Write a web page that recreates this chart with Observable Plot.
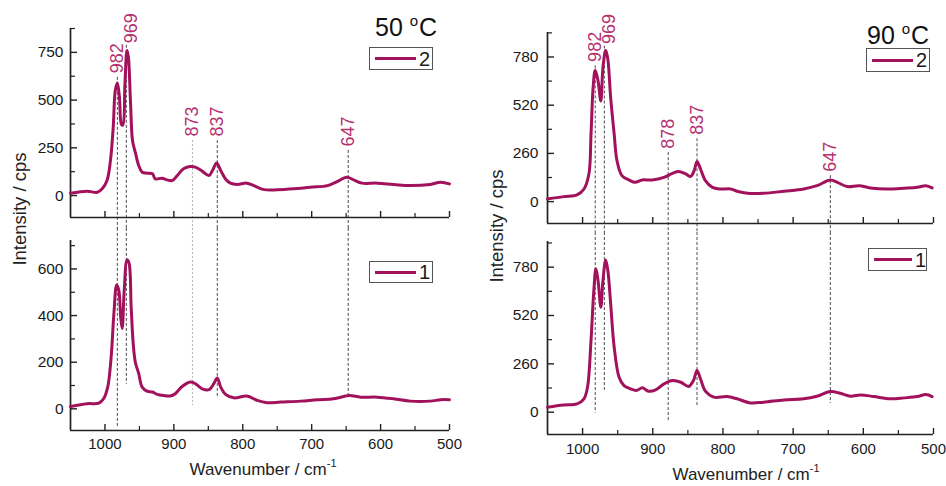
<!DOCTYPE html>
<html><head><meta charset="utf-8">
<script src="https://cdn.jsdelivr.net/npm/d3@7"></script>
<script src="https://cdn.jsdelivr.net/npm/@observablehq/plot@0.6"></script>
<style>
body{margin:0;background:#fff;font-family:"Liberation Sans",Arial,sans-serif;color:#1a1a1a;}
#root{position:relative;width:946px;height:486px;overflow:hidden;background:#fff;}
.panel{position:absolute;}
.panel svg{overflow:visible;display:block;}
.title{position:absolute;font-size:25px;line-height:1;white-space:nowrap;color:#111;}
.title sup{font-size:15px;vertical-align:0;position:relative;top:-10px;margin-right:1px;}
.legend{position:absolute;box-sizing:border-box;border:1px solid #555;background:#fff;display:flex;align-items:center;padding-left:5px;font-size:20px;line-height:1;}
.legend .sw{display:inline-block;width:41px;height:3px;background:#a2115b;margin-right:3px;}
.ylab{position:absolute;font-size:18.5px;white-space:nowrap;transform:translate(-50%,-50%) rotate(-90deg);color:#222;}
.xlab{position:absolute;font-size:17px;white-space:nowrap;transform:translateX(-50%);color:#222;line-height:1;}
.xlab sup{font-size:11px;position:relative;top:-1px;}
</style></head><body><div id="root"></div>
<script>
// ---- data ----
const xMajor = [1000, 900, 800, 700, 600, 500];
const xMinor = [950, 850, 750, 650, 550];
const yMajor50top = [0, 250, 500, 750];
const yMinor50top = [125, 375, 625, 875];
const yMajor50bot = [0, 200, 400, 600];
const yMinor50bot = [100, 300, 500, 700];
const yMajor90 = [0, 260, 520, 780];
const yMinor90 = [130, 390, 650, 910];

const peaks50 = [982, 969, 873, 837, 647];
const peaks90 = [982, 969, 878, 837, 647];

// 50 °C, spectrum 2
const s50_2_x = [1050,1026,1011,1004,997,992,988,985,982,979,976,974,971,968,966,963,960,956,951,946,939,931,927,917,910,902,895,886,876,869,859,849,844,838,832,825,818,808,794,784,769,750,726,702,677,663,649,639,627,605,581,557,528,513,500];
const s50_2_y = [12,23,17,35,79,184,358,551,589,516,372,370,586,760,726,498,288,227,157,122,117,114,87,91,82,79,105,140,152,149,128,105,131,170,131,87,65,58,65,52,31,30,35,44,52,73,96,82,65,65,58,52,58,70,61];
// 50 °C, spectrum 1
const s50_1_x = [1050,1026,1009,1002,996,991,987,983,980,977,975,972,968,965,962,959,956,951,946,939,931,924,915,905,898,888,876,869,859,849,842,837,832,825,813,794,779,765,745,716,692,668,646,629,605,581,557,528,513,500];
const s50_1_y = [10,22,24,43,93,223,409,531,510,388,345,510,639,624,438,280,201,151,93,76,72,62,57,55,65,96,115,108,86,82,108,132,93,62,47,55,36,26,29,33,39,43,57,50,50,43,33,33,39,39];
// 90 °C, spectrum 2
const s90_2_x = [1050,1027,1008,998,991,988,985,982,978,974,971,967,964,960,955,951,944,934,925,915,901,884,872,863,853,846,841,837,832,825,815,804,789,780,765,742,713,685,666,647,637,623,606,590,566,542,523,511,502];
const s90_2_y = [14,27,36,68,149,364,615,708,651,543,723,816,767,561,364,221,140,117,104,117,117,131,152,163,149,136,167,217,176,113,77,68,68,56,45,45,56,68,86,117,104,81,86,74,68,72,77,86,74];
// 90 °C, spectrum 1
const s90_1_x = [1050,1027,1008,998,993,988,984,981,978,974,971,967,964,960,955,948,941,932,923,915,906,896,884,872,860,849,842,837,832,825,813,794,780,761,742,713,685,666,647,633,618,604,585,561,542,523,511,502];
const s90_1_y = [27,39,45,72,134,386,654,771,708,565,708,819,762,583,350,188,143,126,117,131,113,120,152,170,161,138,170,224,179,113,81,84,72,50,54,66,72,86,111,102,86,93,84,72,77,84,95,84];

// ---- drawing ----
const LINE = "#a2115b";
const LABEL = "#b5306f";
const root = document.getElementById("root");
const fmt = d => String(d);

function panel(cfg) {
  const data = cfg.xs.map((x, i) => ({x, y: cfg.ys[i]}));
  const rules = cfg.peaks.map((p, i) => ({x: p, y1: cfg.ruleFrom[i], y2: cfg.ruleTo[i], light: !!(cfg.light && cfg.light[i]), label: String(p)}));
  const marks = [
    Plot.ruleX(rules.filter(d => !d.light), {x: "x", y1: "y1", y2: "y2", stroke: "#4a4a4a", strokeWidth: 1, strokeDasharray: "3,2"}),
    Plot.ruleX(rules.filter(d => d.light), {x: "x", y1: "y1", y2: "y2", stroke: "#a0a0a0", strokeWidth: 0.8, strokeDasharray: "2,2"}),
    Plot.axisY(cfg.yMajor, {tickSize: 0, tickPadding: cfg.yPad, tickFormat: fmt, label: null, fontSize: 15.5, fill: "#1a1a1a"}),
    Plot.axisY(cfg.yMajor, {tickSize: 7, dx: 7, text: null, label: null, strokeWidth: 1.4, stroke: "#222"}),
    Plot.axisY(cfg.yMinor, {tickSize: 5, dx: 5, text: null, label: null, strokeWidth: 1.2, stroke: "#222"}),
    Plot.axisX(xMajor, {tickSize: 6, dy: -6, text: null, label: null, strokeWidth: 1.4, stroke: "#222"}),
    Plot.axisX(xMinor, {tickSize: 4, dy: -4, text: null, label: null, strokeWidth: 1.2, stroke: "#222"}),
    Plot.ruleX([1050], {stroke: "#222", strokeWidth: 1.7}),
    Plot.ruleY([cfg.domain[0]], {stroke: "#222", strokeWidth: 1.7}),
    Plot.line(data, {x: "x", y: "y", stroke: LINE, strokeWidth: 3, curve: "catmull-rom"})
  ];
  if (cfg.showX) {
    marks.push(Plot.axisX(xMajor, {tickSize: 0, tickPadding: cfg.xPad, tickFormat: fmt, label: null, fontSize: 15, fill: "#1a1a1a"}));
  }
  if (cfg.labels) {
    const lab = rules.filter(d => d.x !== 969);
    const lab969 = rules.filter(d => d.x === 969);
    marks.push(Plot.text(lab, {x: "x", y: "y1", text: "label", rotate: -90, textAnchor: "start", dy: -4, fill: LABEL, fontSize: 18}));
    marks.push(Plot.text(lab969, {x: "x", y: "y1", text: "label", rotate: -90, textAnchor: "start", dy: -2, dx: 5, fill: LABEL, fontSize: 18}));
  }
  const svg = Plot.plot({
    width: cfg.w, height: cfg.h,
    marginLeft: cfg.mL, marginRight: cfg.mR, marginTop: cfg.mT, marginBottom: cfg.mB,
    style: {overflow: "visible", background: "transparent", fontFamily: '"Liberation Sans", Arial, sans-serif', color: "#222"},
    x: {domain: [1050, 500]},
    y: {domain: cfg.domain},
    marks
  });
  const div = document.createElement("div");
  div.className = "panel";
  div.style.left = cfg.left + "px";
  div.style.top = cfg.top + "px";
  div.appendChild(svg);
  root.appendChild(div);
}

// 50 °C top (spectrum 2)
panel({left: 0, top: 0, w: 470, h: 230, mL: 70, mR: 21, mT: 28, mB: 13, domain: [-115, 875],
  xs: s50_2_x, ys: s50_2_y, yMajor: yMajor50top, yMinor: yMinor50top, yPad: 7,
  peaks: peaks50, ruleFrom: [619, 787, 288, 288, 236], ruleTo: [-176, -176, -176, -176, -176],
  light: [false, false, true, false, false], labels: true, showX: false});
// 50 °C bottom (spectrum 1)
panel({left: 0, top: 230, w: 470, h: 256, mL: 70, mR: 21, mT: 10, mB: 56, domain: [-93, 722],
  xs: s50_1_x, ys: s50_1_y, yMajor: yMajor50bot, yMinor: yMinor50bot, yPad: 7, xPad: 8,
  peaks: peaks50, ruleFrom: [774, 774, 774, 774, 774], ruleTo: [-80, 105, 14, 44, 49],
  light: [false, false, true, false, false], labels: false, showX: true});
// 90 °C top (spectrum 2)
panel({left: 470, top: 0, w: 476, h: 230, mL: 77, mR: 13, mT: 32, mB: 7, domain: [-118, 912],
  xs: s90_2_x, ys: s90_2_y, yMajor: yMajor90, yMinor: yMinor90, yPad: 9,
  peaks: peaks90, ruleFrom: [732, 839, 264, 339, 140], ruleTo: [-167, -167, -167, -167, -167],
  labels: true, showX: false});
// 90 °C bottom (spectrum 1)
panel({left: 470, top: 230, w: 476, h: 256, mL: 77, mR: 13, mT: 11, mB: 52, domain: [-120, 918],
  xs: s90_1_x, ys: s90_1_y, yMajor: yMajor90, yMinor: yMinor90, yPad: 9, xPad: 9,
  peaks: peaks90, ruleFrom: [966, 966, 966, 966, 966], ruleTo: [-5, 117, -45, 25, 47],
  labels: false, showX: true});

// texts
function add(html, cls, css) {
  const d = document.createElement("div");
  d.className = cls;
  d.innerHTML = html;
  Object.assign(d.style, css);
  root.appendChild(d);
}
add('50 <sup>o</sup>C', "title", {left: "375px", top: "15px"});
add('90 <sup>o</sup>C', "title", {left: "867px", top: "23px"});
add('<span class="sw"></span>2', "legend", {left: "369px", top: "47px", width: "64px", height: "23px"});
add('<span class="sw"></span>1', "legend", {left: "369px", top: "261px", width: "64px", height: "22px"});
add('<span class="sw"></span>2', "legend", {left: "866px", top: "48px", width: "64px", height: "24px"});
add('<span class="sw" style="width:38px"></span>1', "legend", {left: "868px", top: "248px", width: "59px", height: "23px"});
add('Intensity / cps', "ylab", {left: "20px", top: "209px"});
add('Intensity / cps', "ylab", {left: "497px", top: "226px"});
add('Wavenumber / cm<sup>-1</sup>', "xlab", {left: "263px", top: "459px"});
add('Wavenumber / cm<sup>-1</sup>', "xlab", {left: "746px", top: "464px"});
</script>
</body></html>
